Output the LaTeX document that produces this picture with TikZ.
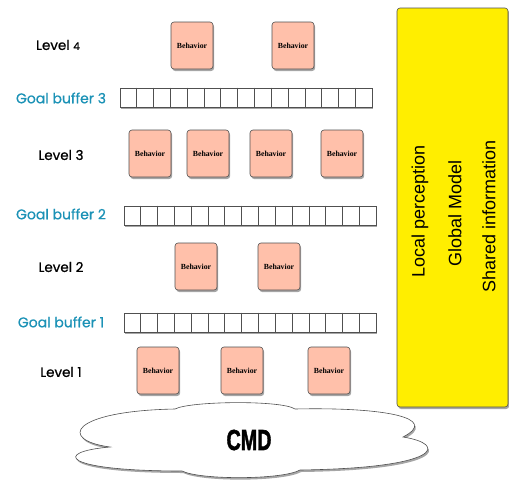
\documentclass[tikz,border=0pt]{standalone}
\usepackage{fontspec}
\usetikzlibrary{shadows,calc}
\newfontfamily\geofont{Poppins}[FakeBold=0.8]
\newfontfamily\helvfont{Liberation Sans}
\newfontfamily\serfont{Liberation Serif}
\newfontfamily\cmdfont{Liberation Sans}[UprightFeatures={FakeBold=2},BoldFeatures={FakeBold=2}]
\definecolor{tealc}{RGB}{28,146,182}
\definecolor{behfill}{RGB}{255,192,170}
\definecolor{yellowc}{RGB}{255,238,0}
\definecolor{edgec}{RGB}{80,80,80}
\tikzset{
  shad/.style={drop shadow={shadow xshift=1.2pt,shadow yshift=-2pt,opacity=0.35,fill=black}},
  behavior/.style={draw=edgec,line width=0.6pt,fill=behfill,rounded corners=3pt,minimum width=42pt,minimum height=47pt,inner sep=0pt,shad,font=\serfont\bfseries\fontsize{7.8}{8}\selectfont},
  lvl/.style={font=\geofont\fontsize{13.5}{14}\selectfont,text=black},
  gbl/.style={font=\geofont\fontsize{14}{15}\selectfont,text=tealc},
  buffer/.style={draw=edgec,line width=0.6pt,fill=white,minimum width=252pt,minimum height=19pt,inner sep=0pt,shad},
  side/.style={font=\helvfont\fontsize{18}{19}\selectfont,rotate=90}
}
\begin{document}
\begin{tikzpicture}[x=1pt,y=-1pt]
\useasboundingbox (0,0) rectangle (509,480);
% yellow panel
\node[draw=edgec,line width=0.6pt,fill=yellowc,rounded corners=3pt,minimum width=111pt,minimum height=399pt,inner sep=0pt,shad] (panel) at (452.5,207.5) {};
\node[side] (lp) at (420,211) {Local perception};
\node[side] (gm) at (455,213) {Global Model};
\node[side] (si) at (489,216) {Shared information};
% labels
\node[lvl] (l4) at (58,45) {Level {\fontsize{10.5}{11}\selectfont 4}};
\node[gbl] (g3) at (61,98) {Goal buffer 3};
\node[lvl] (l3) at (61,155) {Level 3};
\node[gbl] (g2) at (61,214) {Goal buffer 2};
\node[lvl] (l2) at (61,267) {Level 2};
\node[gbl] (g1) at (61,322) {Goal buffer 1};
\node[lvl] (l1) at (61,372) {Level 1};
% behaviors
\node[behavior] (b41) at (192,45.5) {Behavior};
\node[behavior] (b42) at (293,45.5) {Behavior};
\node[behavior] (b31) at (150,153.5) {Behavior};
\node[behavior] (b32) at (208,153.5) {Behavior};
\node[behavior] (b33) at (271,153.5) {Behavior};
\node[behavior] (b34) at (342,153.5) {Behavior};
\node[behavior] (b21) at (196,266.5) {Behavior};
\node[behavior] (b22) at (279,266.5) {Behavior};
\node[behavior] (b11) at (158,370.5) {Behavior};
\node[behavior] (b12) at (242,370.5) {Behavior};
\node[behavior] (b13) at (329,370.5) {Behavior};
% buffers
\foreach \nm/\cx/\cy in {buf3/246/97.5, buf2/250/215.5, buf1/250/322.5}{
  \node[buffer] (\nm) at (\cx,\cy) {};
  \foreach \i in {1,...,14}{
    \draw[edgec,line width=0.6pt] ($(\nm.north west)!\i/15!(\nm.north east)$) -- ($(\nm.south west)!\i/15!(\nm.south east)$);
  }
}
% cloud
\path[draw=edgec,line width=0.6pt,fill=white,shad]
 (110,447) .. controls (58,440) and (70,411) .. (175,409)
 .. controls (190,401) and (282,400) .. (295,409)
 .. controls (385,407) and (440,418) .. (403,437)
 .. controls (448,444) and (442,468) .. (300,470)
 .. controls (282,480) and (200,480) .. (182,471)
 .. controls (62,471) and (52,452) .. (110,447) -- cycle;
\node[font=\cmdfont\bfseries\fontsize{29}{30}\selectfont] (cmd) at (249,440) {\scalebox{0.68}[1]{CMD}};
\end{tikzpicture}
\end{document}
